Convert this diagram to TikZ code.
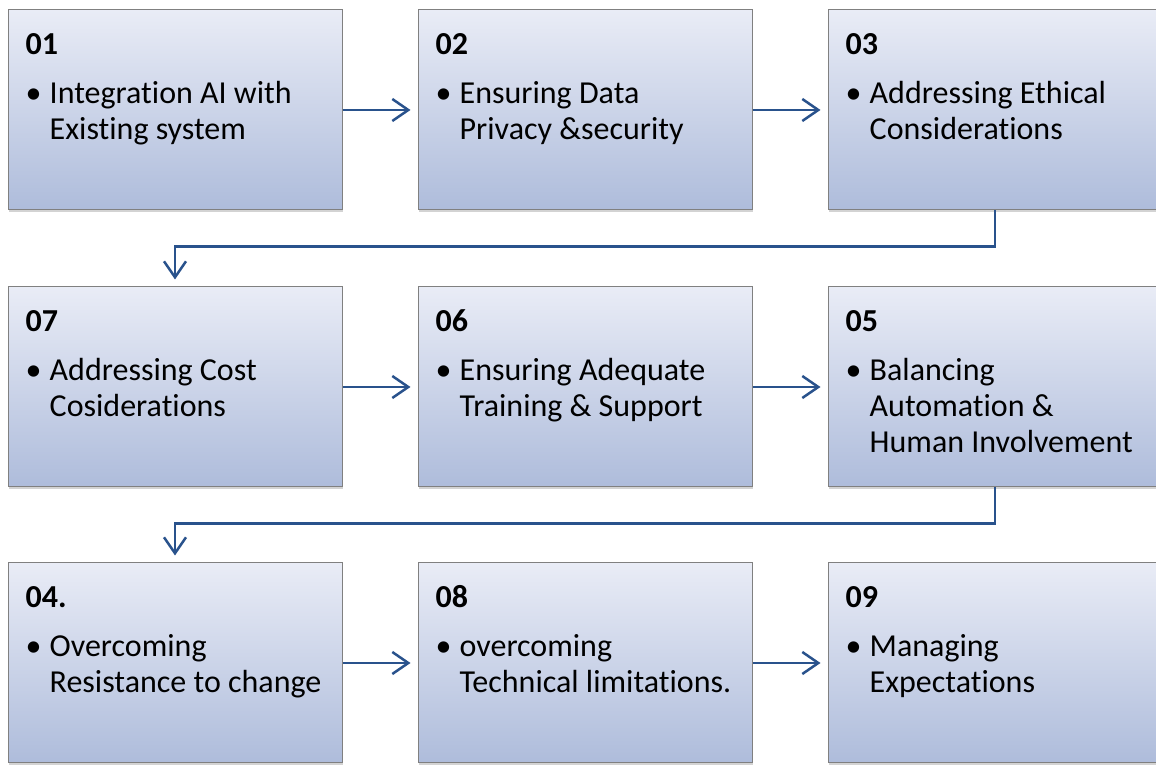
\documentclass[tikz,border=0pt]{standalone}
\usepackage{fontspec}
\setmainfont[Ligatures={NoCommon}]{Carlito}
\usetikzlibrary{positioning,shadows,arrows.meta}
\definecolor{flowblue}{RGB}{41,82,140}
\definecolor{boxtop}{RGB}{233,236,246}
\definecolor{boxbot}{RGB}{174,188,219}
\definecolor{boxline}{RGB}{128,128,128}

\begin{document}
\begin{tikzpicture}[x=1pt,y=1pt,
	stepbox/.style={draw=boxline,line width=1pt,top color=boxtop,bottom color=boxbot,minimum width=334pt,minimum height=200pt,inner sep=0pt,drop shadow={opacity=0.35,shadow xshift=1pt,shadow yshift=-2pt}},
	steptitle/.style={anchor=base west,inner sep=0pt,font=\bfseries\fontsize{32}{36}\selectfont},
	stepdot/.style={anchor=base west,inner sep=0pt,font=\fontsize{32}{36}\selectfont},
	stepbody/.style={anchor=base west,inner sep=0pt,font=\fontsize{32}{36}\selectfont},
	flow/.style={-{Straight Barb[length=16pt,width=22pt,line width=2.5pt]},flowblue,line width=2.5pt,shorten >=7pt}]

	\useasboundingbox (0,0) rectangle (1156,765);
	\clip (0,0) rectangle (1156,765);

	\foreach \n/\x/\y/\title/\body in {%
	   1/175/655/01/{Integration AI with\\Existing system},%
	   2/585/655/02/{Ensuring Data\\Privacy \&security},%
	   3/995/655/03/{Addressing Ethical\\Considerations},%
	   7/175/378/07/{Addressing Cost\\Cosiderations},%
	   6/585/378/06/{Ensuring Adequate\\Training \& Support},%
	   5/995/378/05/{Balancing\\Automation \&\\Human Involvement},%
	   4/175/102/04./{Overcoming\\Resistance to change},%
	   8/585/102/08/{overcoming\\Technical limitations.},%
	   9/995/102/09/{Managing\\Expectations}%
	   } { \node[stepbox] (b\n) at (\x,\y) {};
	       \node[steptitle] (t\n) at ([shift={(18,-45)}]b\n.north west) {\title};
	       \node[stepdot] (d\n) at ([shift={(18,-94)}]b\n.north west) {•};
	       \node[stepbody] (s\n) at ([shift={(42,-94)}]b\n.north west)
	          {\parbox[t]{300pt}{\raggedright\body}};
	   }

	% arrows along each row
	\foreach \a/\b in {1/2,2/3,7/6,6/5,4/8,8/9}
	   \draw[flow] (b\a.east) -- (b\b.west);
	% turn down to the next row
	\draw[flow] (b3.south) -- ++(0,-36) -| (b7.north);
	\draw[flow] (b5.south) -- ++(0,-36) -| (b4.north);

\end{tikzpicture}
\end{document}
